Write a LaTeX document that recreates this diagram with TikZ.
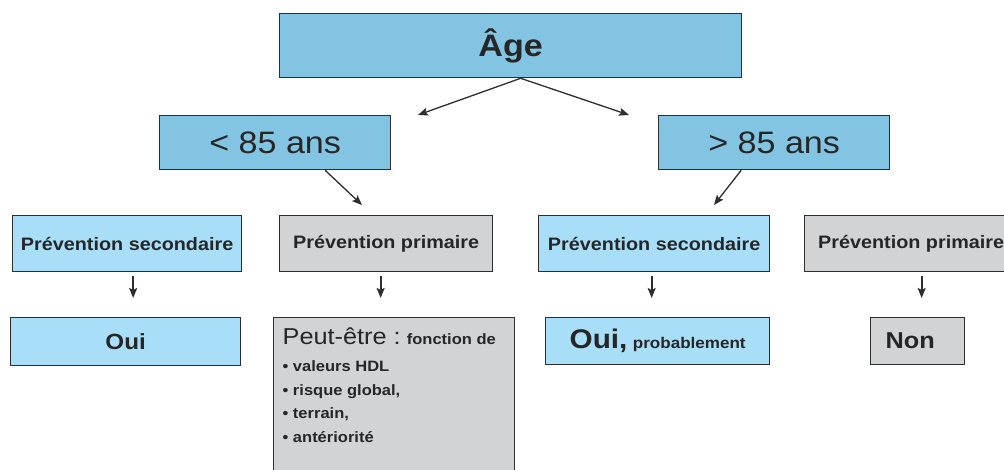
\documentclass[tikz,border=0pt]{standalone}
\usepackage{fontspec}
\setmainfont[FakeStretch=1.1]{Liberation Sans}
\usepackage{tikz}
\usetikzlibrary{arrows, arrows.meta, positioning, calc}
\definecolor{agebleu}{HTML}{82C4E2}
\definecolor{clairbleu}{HTML}{A8DEF8}
\definecolor{grisbox}{HTML}{D1D3D4}
\definecolor{bord}{HTML}{2E2E2E}

\begin{document}
\begin{tikzpicture}[x=1pt,y=-1pt,->,>={Stealth[length=10pt,width=8pt,inset=2pt]},
		draw=bord,line width=1.3pt]
		\tikzstyle{boite}=[draw=bord,line width=1.3pt,inner sep=0pt,anchor=north west,text=black!85]
		\tikzstyle{haut}=[boite,fill=agebleu,minimum width=231pt,minimum height=54pt,font=\fontsize{31}{36}\selectfont]
		\tikzstyle{bleu}=[boite,fill=clairbleu,font=\bfseries\fontsize{18}{22}\selectfont]
		\tikzstyle{gris}=[boite,fill=grisbox,font=\bfseries\fontsize{18}{22}\selectfont]
		\tikzstyle{court}=[line width=1.8pt,shorten <=4pt,shorten >=19pt]
		
		\useasboundingbox (0,0) rectangle (1004,470);
		\clip (0,0) rectangle (1004,470);
		
		\node[haut,minimum width=462pt,minimum height=64pt,font=\bfseries\fontsize{31}{36}\selectfont] (age) at (279,13) {Âge};
		\node[haut] (lt) at (159,115) {< 85 ans};
		\node[haut] (gt) at (658,115) {> 85 ans};
		
		\node[bleu,minimum width=229pt,minimum height=56pt] (ps1) at (12,215)  {Prévention secondaire};
		\node[gris,minimum width=213pt,minimum height=56pt] (pp1) at (279,215) {Prévention primaire};
		\node[bleu,minimum width=231pt,minimum height=56pt] (ps2) at (538,215) {Prévention secondaire};
		\node[gris,minimum width=213pt,minimum height=56pt] (pp2) at (804,215) {Prévention primaire};
		
		\node[bleu,minimum width=230pt,minimum height=48pt,font=\bfseries\fontsize{22}{26}\selectfont] (oui1) at (10,317) {Oui};
		\node[gris,minimum width=241pt,minimum height=175pt] (peut) at (273,317) {};
		\node[anchor=north west,inner sep=0pt,align=left,text=black!85,font=\bfseries\fontsize{15}{23.5}\selectfont]
			(peuttxt) at ([shift={(9,10)}]peut.north west)
			{{\mdseries\fontsize{23}{26}\selectfont Peut-être :} fonction de\\[4pt]
			 • valeurs HDL\\ • risque global,\\ • terrain,\\ • antériorité};
		\node[bleu,minimum width=224pt,minimum height=47pt] (oui2) at (545,317)
			{{\fontsize{27}{30}\selectfont Oui,} {\fontsize{15.5}{18}\selectfont probablement}};
		\node[gris,inner xsep=15pt,text width=64pt,align=left,minimum height=47pt,
			font=\bfseries\fontsize{23}{26}\selectfont] (non) at (870,317) {Non};
		
		% free ends of the slanted arrows
		\coordinate (ga) at (418,115);
		\coordinate (dr) at (629,115);
		\coordinate (ltb) at (362,205);
		\coordinate (gtb) at (714,205);
		
		\draw ([xshift=10pt]age.south) -- (ga);
		\draw ([xshift=10pt]age.south) -- (dr);
		\draw ([xshift=50pt]lt.south) -- (ltb);
		\draw ([xshift=-33pt]gt.south) -- (gtb);
		
		\draw[court] ($(ps1.south)+(6,0)$) -- ($(oui1.north -| ps1.south)+(6,0)$);
		\draw[court] ($(pp1.south)+(-5.5,0)$) -- ($(peut.north -| pp1.south)+(-5.5,0)$);
		\draw[court] ($(ps2.south)+(-2.5,0)$) -- ($(oui2.north -| ps2.south)+(-2.5,0)$);
		\draw[court] ($(pp2.south)+(10.5,0)$) -- ($(non.north -| pp2.south)+(10.5,0)$);
\end{tikzpicture}
\end{document}
